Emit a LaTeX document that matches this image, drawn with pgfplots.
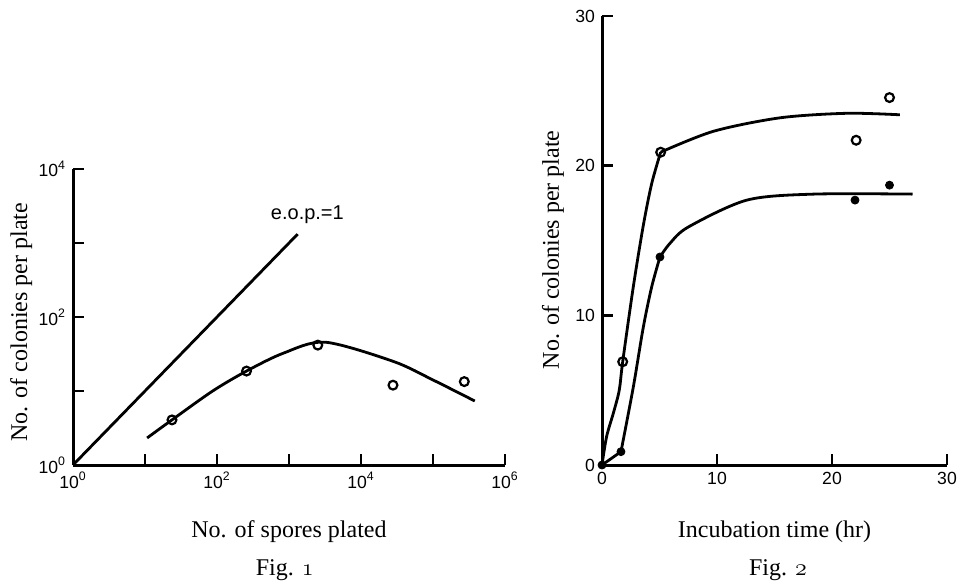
\documentclass[border=0pt]{standalone}
\usepackage{fontspec}
\setmainfont{Liberation Serif}
\setsansfont{Liberation Sans}
\usepackage{pgfplots}
\pgfplotsset{compat=1.18}
\newcommand{\osf}[1]{{\usefont{OML}{cmm}{m}{it}#1}}
\pgfplotsset{
  figstyle/.style={
    scale only axis,
    axis lines=left,
    axis line style={-, line width=1.5pt},
    every tick/.style={line width=1.3pt, black},
    major tick length=5.5pt,
    xtick pos=left, ytick pos=left,
    clip=false,
    ticklabel style={font=\fontsize{8.8}{10}\selectfont\sffamily},
    /pgf/number format/assume math mode=true,
    label style={font=\fontsize{12}{14}\selectfont},
    xminorticks=false, yminorticks=false,
  },
  curve/.style={black, line width=1.4pt, smooth, no marks},
  seg/.style={black, line width=1.4pt, no marks},
  opendot/.style={only marks, mark=o, mark size=2.2pt, mark options={line width=1.1pt, fill=white, draw=black}},
  filldot/.style={only marks, mark=*, mark size=2.0pt, mark options={fill=black, draw=black}},
}
\begin{document}
\begin{tikzpicture}
\useasboundingbox (0,0) rectangle (482pt,293pt);
% ---------- Fig. 1 ----------
\begin{axis}[figstyle,
  tick align=inside,
  at={(36.5pt,60.5pt)}, anchor=south west,
  width=216pt, height=148pt,
  xmode=log, ymode=log,
  xmin=1, xmax=1000000, ymin=1, ymax=10000,
  xtick={1,10,100,1000,10000,100000,1000000},
  xticklabels={10\textsuperscript{0},,10\textsuperscript{2},,10\textsuperscript{4},,10\textsuperscript{6}},
  ytick={1,10,100,1000,10000},
  yticklabels={10\textsuperscript{0},,10\textsuperscript{2},,10\textsuperscript{4}},
  xlabel={No. of spores plated},
  xlabel style={at={(axis description cs:0.5,0)}, anchor=center, yshift=-33.5pt},
  ylabel={No. of colonies per plate},
  ylabel style={at={(axis description cs:-0.12,0.483)}, anchor=center},
]
\addplot[seg] coordinates {(1,1) (1318,1318)};
\addplot[curve] coordinates {
  (10.7,2.32) (23.7,4.07) (87.1,10.0) (257,18.6) (832,32.4) (3162,45.7)
  (28184,25.1) (100000,14.1) (380189,7.33)};
\addplot[opendot] coordinates {
  (23.7,4.07) (257,18.6) (2512,41.7) (27800,12.0) (272000,13.4)};
\node[font=\fontsize{10}{12}\selectfont\sffamily] at (axis cs:1800,2400) {e.o.p.=1};
\node[font=\fontsize{12}{14}\selectfont] at (axis description cs:0.49,0) [yshift=-52.5pt] {Fig. \osf{1}};
\end{axis}
% ---------- Fig. 2 ----------
\begin{axis}[figstyle,
  tick align=inside,
  at={(301pt,60.5pt)}, anchor=south west,
  width=172.5pt, height=224.5pt,
  xmin=0, xmax=30, ymin=0, ymax=30,
  xtick={0,10,20,30}, ytick={0,10,20,30},
  xlabel={Incubation time (hr)},
  xlabel style={at={(axis description cs:0.5,0)}, anchor=center, yshift=-33.5pt},
  ylabel={No. of colonies per plate},
  ylabel style={at={(axis description cs:-0.142,0.479)}, anchor=center},
]
% open series: rise then plateau
\addplot[curve] coordinates {
  (0,0) (0.4,1.9) (1.0,3.5) (1.5,5.0) (1.8,6.9) (2.72,11.9) (3.59,16.0)
  (4.32,18.8) (5.1,20.9)};
\addplot[curve] coordinates {
  (5.1,20.9) (9.7,22.3) (15.5,23.2) (21.3,23.5) (25.9,23.4)};
% filled series
\addplot[seg] coordinates {(0,0) (1.65,0.89)};
\addplot[curve] coordinates {
  (1.65,0.89) (2.72,5.2) (3.59,9.2) (4.32,11.9) (5.04,13.9)};
\addplot[curve] coordinates {
  (5.04,13.9) (5.9,14.8) (7.5,15.9) (12.6,17.7) (18.4,18.1) (27.0,18.1)};
\addplot[opendot] coordinates {(1.8,6.9) (5.1,20.9) (22.1,21.7) (25.0,24.55)};
\addplot[filldot] coordinates {(0,0) (1.65,0.89) (5.04,13.9) (22.0,17.7) (25.0,18.7)};
\node[font=\fontsize{12}{14}\selectfont] at (axis description cs:0.51,0) [yshift=-52.5pt] {Fig. \osf{2}};
\end{axis}
\end{tikzpicture}
\end{document}
